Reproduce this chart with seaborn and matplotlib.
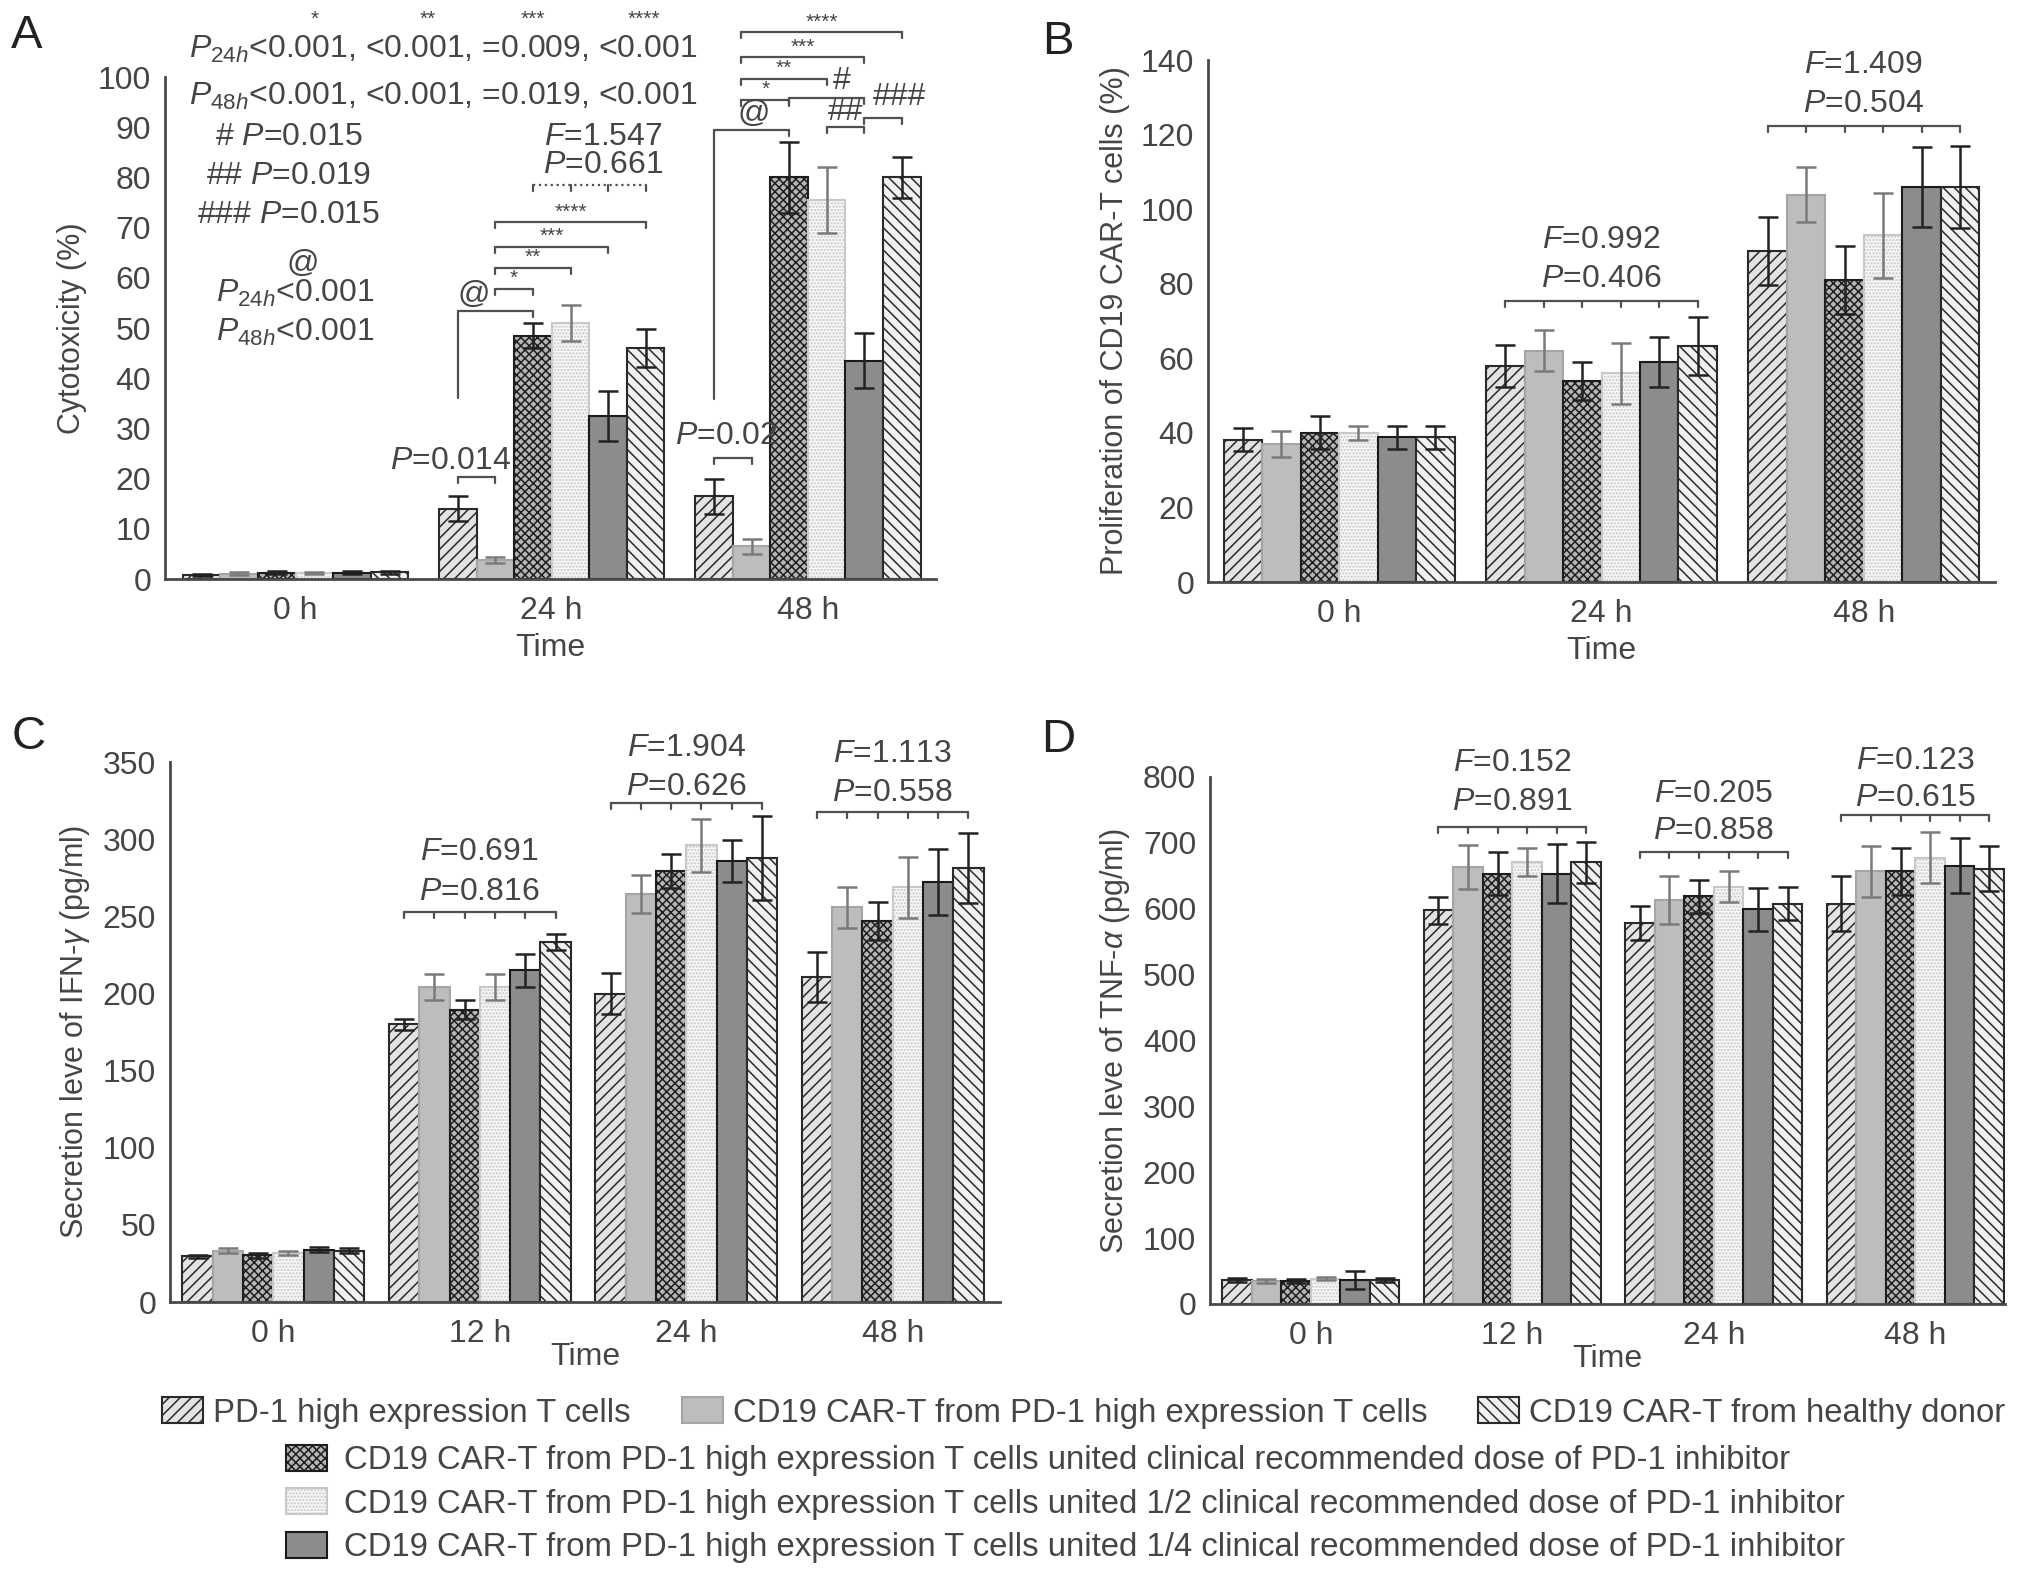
import numpy as np
import pandas as pd
import matplotlib
matplotlib.use("Agg")
import matplotlib.pyplot as plt
import matplotlib.patches as mpatches
import seaborn as sns

sns.set_style("white")
plt.rcParams['font.family'] = ['Liberation Sans', 'DejaVu Sans']
plt.rcParams['mathtext.fontset'] = 'custom'
plt.rcParams['mathtext.rm'] = 'Liberation Sans'
plt.rcParams['mathtext.it'] = 'Liberation Sans:italic'
plt.rcParams['hatch.linewidth'] = 1.1
TXT = '#454545'
FS = 23

# groups (hue levels)
groups = [
    "PD-1 high expression T cells",
    "CD19 CAR-T from PD-1 high expression T cells",
    "CD19 CAR-T from PD-1 high expression T cells united clinical recommended dose of PD-1 inhibitor",
    "CD19 CAR-T from PD-1 high expression T cells united 1/2 clinical recommended dose of PD-1 inhibitor",
    "CD19 CAR-T from PD-1 high expression T cells united 1/4 clinical recommended dose of PD-1 inhibitor",
    "CD19 CAR-T from healthy donor",
]

# panel A: cytotoxicity (%)
times_A = ["0 h", "24 h", "48 h"]
cyto_mean = [[0.7, 1.0, 1.2, 1.2, 1.2, 1.3],
             [14.0, 3.8, 48.5, 51.0, 32.5, 46.0],
             [16.5, 6.5, 80.0, 75.5, 43.5, 80.0]]
cyto_sd = [[0.2, 0.3, 0.3, 0.2, 0.3, 0.3],
           [2.5, 0.6, 2.5, 3.5, 5.0, 3.8],
           [3.5, 1.5, 7.0, 6.5, 5.5, 4.0]]

# panel B: proliferation (%)
times_B = ["0 h", "24 h", "48 h"]
prol_mean = [[38.2, 37.0, 40.0, 40.0, 38.8, 38.8],
             [58.0, 62.0, 53.9, 56.0, 59.0, 63.3],
             [88.8, 103.9, 81.0, 93.0, 105.9, 105.9]]
prol_sd = [[3.0, 3.5, 4.4, 1.8, 3.1, 3.1],
           [5.6, 5.5, 5.0, 8.2, 6.6, 7.8],
           [9.1, 7.4, 9.2, 11.4, 10.7, 11.0]]

# panel C: IFN-gamma (pg/ml)
times_C = ["0 h", "12 h", "24 h", "48 h"]
ifn_mean = [[29.7, 33.4, 30.3, 31.7, 34.0, 33.4],
            [180.0, 204.0, 189.6, 204.0, 215.0, 233.4],
            [200.0, 264.6, 279.6, 296.0, 285.8, 288.0],
            [210.8, 256.0, 247.0, 268.8, 272.2, 281.5]]
ifn_sd = [[1.0, 1.5, 1.5, 1.5, 1.5, 1.5],
          [3.5, 8.5, 6.0, 8.5, 10.5, 5.2],
          [13.3, 12.5, 11.0, 17.0, 13.7, 27.3],
          [16.0, 13.3, 12.5, 19.8, 21.3, 22.8]]

# panel D: TNF-alpha (pg/ml)
times_D = ["0 h", "12 h", "24 h", "48 h"]
tnf_mean = [[36.5, 35.0, 35.0, 38.5, 36.5, 36.5],
            [597.7, 663.0, 653.4, 670.6, 653.4, 670.6],
            [579.0, 613.6, 619.0, 633.5, 599.0, 607.6],
            [607.6, 656.7, 656.7, 677.3, 665.3, 660.7]]
tnf_sd = [[2.5, 2.5, 2.5, 2.5, 14.0, 2.5],
          [20.5, 33.0, 33.0, 21.5, 44.5, 31.0],
          [25.8, 36.5, 25.0, 24.0, 33.2, 24.8],
          [41.5, 39.0, 36.0, 38.8, 41.5, 33.8]]

styles = [
    dict(facecolor='#e3e3e3', edgecolor='#2a2a2a', hatch='///'),
    dict(facecolor='#bdbdbd', edgecolor='#a5a5a5', hatch=None),
    dict(facecolor='#b5b5b5', edgecolor='#1e1e1e', hatch='xxxx'),
    dict(facecolor='#f8f8f8', edgecolor='#c8c8c8', hatch='.....'),
    dict(facecolor='#8c8c8c', edgecolor='#1a1a1a', hatch=None),
    dict(facecolor='#f0f0f0', edgecolor='#2a2a2a', hatch='\\\\\\'),
]
err_colors = ['#222222', '#7a7a7a', '#222222', '#7a7a7a', '#222222', '#222222']

fig = plt.figure(figsize=(20.32, 15.85), dpi=100)
axA = fig.add_axes([0.0812, 0.6347, 0.3794, 0.3167])
axB = fig.add_axes([0.5945, 0.6328, 0.3873, 0.3293])
axC = fig.add_axes([0.0837, 0.1785, 0.4085, 0.3407])
axD = fig.add_axes([0.5955, 0.1773, 0.3912, 0.3325])


def draw_panel(ax, times, means, sds, ymax, ystep, ylabel, xlim, labelpad):
    rows = []
    for i, t in enumerate(times):
        for j, g in enumerate(groups):
            rows.append(dict(time=t, group=g, value=means[i][j]))
    df = pd.DataFrame(rows)
    sns.barplot(data=df, x='time', y='value', hue='group', order=times,
                hue_order=groups, width=0.88, gap=0, errorbar=None,
                legend=False, saturation=1, ax=ax)
    bars = list(ax.containers)
    centers = []
    for j, cont in enumerate(bars):
        cx = []
        for i, p in enumerate(cont.patches):
            st = styles[j]
            p.set_facecolor(st['facecolor'])
            p.set_edgecolor(st['edgecolor'])
            p.set_hatch(st['hatch'])
            p.set_linewidth(1.5)
            x = p.get_x() + p.get_width() / 2
            cx.append(x)
            ax.errorbar(x, p.get_height(), yerr=sds[i][j], color=err_colors[j],
                        elinewidth=1.8, capsize=7.5, capthick=1.8, zorder=5)
        centers.append(cx)
    ax.set_ylim(0, ymax)
    ax.set_xlim(*xlim)
    ax.set_yticks(np.arange(0, ymax + 1, ystep))
    sns.despine(ax=ax)
    for s in ['left', 'bottom']:
        ax.spines[s].set_color('#4a4a4a')
        ax.spines[s].set_linewidth(2)
    ax.tick_params(axis='y', length=6, width=2, color='#4a4a4a',
                   labelsize=FS, labelcolor=TXT, pad=4)
    ax.tick_params(axis='x', length=9, width=2, color='#4a4a4a',
                   labelsize=FS, labelcolor=TXT, pad=3)
    ax.set_ylabel(ylabel, fontsize=22, color=TXT, labelpad=8)
    ax.set_xlabel('Time', fontsize=FS, color=TXT, labelpad=labelpad)
    return centers


def px2dy(ax, px):
    y0, y1 = ax.get_ylim()
    h = ax.get_position().height * 1585
    return px * (y1 - y0) / h


def bracket(ax, x0, x1, y, ticks=None, ls='-', leg_low=None):
    d = px2dy(ax, 6)
    ax.plot([x0, x1], [y, y], color='#505050', lw=1.6, ls=ls, clip_on=False)
    if ticks is None:
        ticks = [x0, x1]
    for t in ticks:
        ax.plot([t, t], [y, y - d], color='#505050', lw=1.6, clip_on=False)
    if leg_low is not None:
        ax.plot([x0, x0], [y, leg_low], color='#505050', lw=1.6, clip_on=False)


def txt(ax, x, y, s, size=FS):
    ax.text(x, y, s, ha='center', va='center', fontsize=size, color=TXT)


def anova(ax, cx, i, y, fy, py, F, P):
    bracket(ax, cx[0][i], cx[5][i], y, ticks=[cx[j][i] for j in range(6)])
    txt(ax, i, fy, '$F$=' + F)
    txt(ax, i, py, '$P$=' + P)


cA = draw_panel(axA, times_A, cyto_mean, cyto_sd, 100, 10, 'Cytotoxicity (%)', (-0.51, 2.5), 5)
cB = draw_panel(axB, times_B, prol_mean, prol_sd, 140, 20, 'Proliferation of CD19 CAR-T cells (%)', (-0.5, 2.5), 5)
cC = draw_panel(axC, times_C, ifn_mean, ifn_sd, 350, 50, r'Secretion leve of IFN-$\gamma$ (pg/ml)', (-0.5, 3.52), -5)
cD = draw_panel(axD, times_D, tnf_mean, tnf_sd, 800, 100, r'Secretion leve of TNF-$\alpha$ (pg/ml)', (-0.5, 3.445), -5)

# ---- panel A annotations
ax = axA
for x, s in zip([0.076, 0.517, 0.927, 1.361], ['*', '**', '***', '****']):
    txt(ax, x, 111.5, s, size=15)
txt(ax, 0.576, 105.4, r'$P_{\mathit{24h}}$<0.001, <0.001, =0.009, <0.001')
txt(ax, 0.576, 96.2, r'$P_{\mathit{48h}}$<0.001, <0.001, =0.019, <0.001')
txt(ax, -0.026, 88, '# $P$=0.015')
txt(ax, -0.026, 80.3, '## $P$=0.019')
txt(ax, -0.026, 72.5, '### $P$=0.015')
txt(ax, 0.026, 62.7, '@')
txt(ax, 0.0, 56.8, r'$P_{\mathit{24h}}$<0.001')
txt(ax, 0.0, 49.2, r'$P_{\mathit{48h}}$<0.001')

# 24 h comparisons
bracket(ax, cA[0][1], cA[1][1], 20.3)
txt(ax, 0.604, 23.6, '$P$=0.014')
bracket(ax, cA[0][1], cA[2][1], 53.4, ticks=[cA[2][1]], leg_low=36)
txt(ax, 0.695, 56.5, '@')
for k, (y, s) in enumerate(zip([57.8, 62.0, 66.2, 71.1], ['*', '**', '***', '****'])):
    bracket(ax, cA[1][1], cA[2 + k][1], y)
    txt(ax, (cA[1][1] + cA[2 + k][1]) / 2, y + 2.0, s, size=15)
bracket(ax, cA[2][1], cA[5][1], 78.5, ticks=[cA[j][1] for j in range(2, 6)], ls=':')
txt(ax, 1.2, 88, '$F$=1.547')
txt(ax, 1.2, 82.5, '$P$=0.661')

# 48 h comparisons
bracket(ax, cA[0][2], cA[1][2], 24.1)
txt(ax, 1.68, 28.5, '$P$=0.02')
bracket(ax, cA[0][2], cA[2][2], 89.4, ticks=[cA[2][2]], leg_low=35.9)
txt(ax, 1.787, 92.6, '@')
x48 = cA[1][2] - 0.04
for k, (y, s) in enumerate(zip([95.5, 99.7, 104.0, 108.9], ['*', '**', '***', '****'])):
    bracket(ax, x48, cA[2 + k][2], y)
    txt(ax, (x48 + cA[2 + k][2]) / 2, y + 2.0, s, size=15)
bracket(ax, cA[2][2], cA[4][2], 95.9)
txt(ax, 2.134, 99.3, '#')
bracket(ax, cA[3][2], cA[4][2], 90.1)
txt(ax, 2.147, 93.0, '##')
bracket(ax, cA[4][2], cA[5][2], 91.9)
txt(ax, 2.357, 96.1, '###')

# ---- panels B-D annotations
anova(axB, cB, 1, 75.3, 91.7, 81.2, '0.992', '0.406')
anova(axB, cB, 2, 122.4, 138.6, 128.1, '1.409', '0.504')
anova(axC, cC, 1, 252.8, 291.5, 265.5, '0.691', '0.816')
anova(axC, cC, 2, 323.4, 358.8, 333.9, '1.904', '0.626')
anova(axC, cC, 3, 317.8, 355.4, 330.0, '1.113', '0.558')
anova(axD, cD, 1, 723.7, 821.0, 761.5, '0.152', '0.891')
anova(axD, cD, 2, 686.6, 774.8, 718.4, '0.205', '0.858')
anova(axD, cD, 3, 741.6, 824.5, 768.2, '0.123', '0.615')

# panel letters
for s, (x, y) in zip('ABCD', [(27, 36), (1058, 42), (29, 737), (1058, 740)]):
    fig.text(x / 2032, 1 - y / 1585, s, fontsize=34, color='#222222',
             ha='center', va='center')

# legend
handles = [mpatches.Patch(facecolor=st['facecolor'], edgecolor=st['edgecolor'],
                          hatch=st['hatch'], lw=1.5) for st in styles]
order1 = [0, 1, 5]
leg1 = fig.legend([handles[k] for k in order1], [groups[k] for k in order1],
                  loc='center left', bbox_to_anchor=(0.0797, 1 - 1413 / 1585),
                  ncol=3, frameon=False, fontsize=23.7, handlelength=1.25,
                  handleheight=0.85, handletextpad=0.3, columnspacing=1.55,
                  borderpad=0, borderaxespad=0)
for t in leg1.get_texts():
    t.set_color(TXT)
leg2 = fig.legend([handles[k] for k in [2, 3, 4]], [groups[k] for k in [2, 3, 4]],
                  loc='center left', bbox_to_anchor=(0.1407, 1 - 1504 / 1585),
                  ncol=1, frameon=False, fontsize=23.7, handlelength=1.25,
                  handleheight=0.85, handletextpad=0.5, labelspacing=0.36,
                  borderpad=0, borderaxespad=0)
for t in leg2.get_texts():
    t.set_color(TXT)

fig.savefig('out.png', dpi=100)
